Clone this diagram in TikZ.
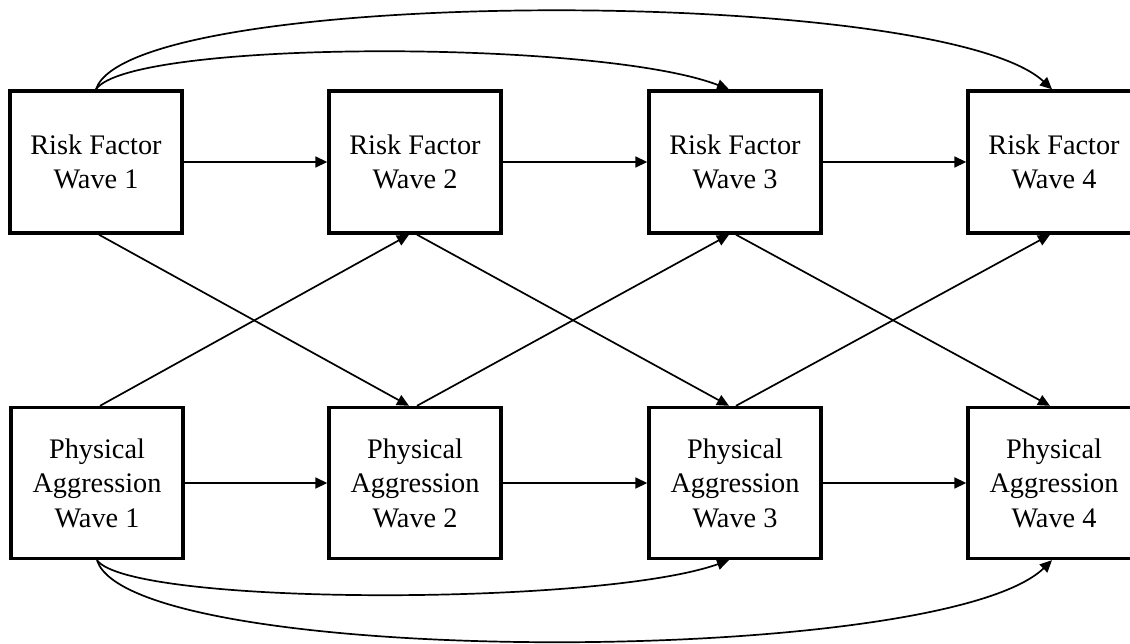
\documentclass[tikz,border=0pt]{standalone}
\usepackage{fontspec}
\setmainfont{Liberation Serif}
\usetikzlibrary{arrows.meta}
\begin{document}
\begin{tikzpicture}[x=1pt,y=-1pt,
  wavebox/.style={draw,line width=3.4pt,minimum width=172pt,align=center,
    inner sep=0pt,font=\fontsize{28.3}{34.5}\selectfont},
  riskbox/.style={wavebox,minimum height=142pt},
  aggbox/.style={wavebox,minimum height=151pt},
  path/.style={line width=1.7pt,-{Triangle[length=12pt,width=11pt]}}]
\useasboundingbox (0,0) rectangle (1130,643);

% upper row: risk factor
\node[riskbox] (rf1) at (96,162)   {Risk Factor\\Wave 1};
\node[riskbox] (rf2) at (415,162)  {Risk Factor\\Wave 2};
\node[riskbox] (rf3) at (735,162)  {Risk Factor\\Wave 3};
\node[riskbox] (rf4) at (1054,162) {Risk Factor\\Wave 4};

% lower row: physical aggression
\node[aggbox] (pa1) at (97,483)   {Physical\\Aggression\\Wave 1};
\node[aggbox] (pa2) at (415,483)  {Physical\\Aggression\\Wave 2};
\node[aggbox] (pa3) at (735,483)  {Physical\\Aggression\\Wave 3};
\node[aggbox] (pa4) at (1054,483) {Physical\\Aggression\\Wave 4};

% stability paths
\draw[path] (rf1) -- (rf2);
\draw[path] (rf2) -- (rf3);
\draw[path] (rf3) -- (rf4);
\draw[path] (pa1) -- (pa2);
\draw[path] (pa2) -- (pa3);
\draw[path] (pa3) -- (pa4);

% cross-lagged paths
\draw[path] ([xshift=3pt]rf1.south) -- ([xshift=-6pt]pa2.north);
\draw[path] ([xshift=2pt]rf2.south) -- ([xshift=-6pt]pa3.north);
\draw[path] ([xshift=1pt]rf3.south) -- ([xshift=-4pt]pa4.north);
\draw[path] ([xshift=3pt]pa1.north) -- ([xshift=-6pt]rf2.south);
\draw[path] ([xshift=2pt]pa2.north) -- ([xshift=-6pt]rf3.south);
\draw[path] ([xshift=1pt]pa3.north) -- ([xshift=-4pt]rf4.south);

% lagged paths over two and three waves
\draw[path] (rf1.north) .. controls +(34,-50) and +(-129,-50) .. ([xshift=-6pt]rf3.north);
\draw[path] (rf1.north) .. controls +(34,-104) and +(-112,-104) .. ([xshift=-2pt]rf4.north);
\draw[path] (pa1.south) .. controls +(34,46) and +(-129,46) .. ([xshift=-6pt]pa3.south);
\draw[path] (pa1.south) .. controls +(34,108) and +(-112,108) .. ([xshift=-2pt]pa4.south);
\end{tikzpicture}
\end{document}
